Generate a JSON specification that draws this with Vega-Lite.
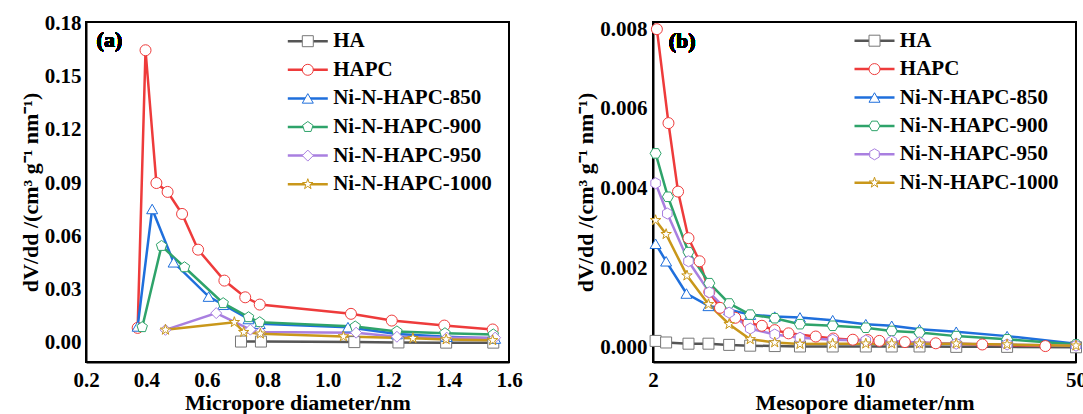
{
  "$schema": "https://vega.github.io/schema/vega-lite/v6.json",
  "padding": {"left": 18, "top": 11, "right": 0, "bottom": 0},
  "autosize": {"type": "pad"},
  "config": {
    "font": "Liberation Serif",
    "view": {"stroke": "black", "strokeWidth": 2},
    "axis": {
      "labelFont": "Liberation Serif", "labelFontWeight": "bold", "labelFontSize": 21, "labelColor": "black",
      "titleFont": "Liberation Serif", "titleFontWeight": "bold", "titleFontSize": 22, "titleColor": "black",
      "domainColor": "black", "domainWidth": 2, "tickColor": "black", "tickWidth": 1.5,
      "grid": false, "labelFlush": false, "labelOverlap": false
    },
    "legend": {"labelFont": "Liberation Serif", "labelFontWeight": "bold", "labelColor": "black"},
    "text": {"font": "Liberation Serif"}
  },
  "datasets": {
    "micro": [
      {"series": "HA", "d": 0.713, "v": 0.0008},
      {"series": "HA", "d": 0.779, "v": 0.0008},
      {"series": "HA", "d": 1.088, "v": 0.0005},
      {"series": "HA", "d": 1.234, "v": 0.0003},
      {"series": "HA", "d": 1.392, "v": 0.0002},
      {"series": "HA", "d": 1.548, "v": 0.0002},
      {"series": "HAPC", "d": 0.371, "v": 0.0085},
      {"series": "HAPC", "d": 0.397, "v": 0.1647},
      {"series": "HAPC", "d": 0.433, "v": 0.09},
      {"series": "HAPC", "d": 0.47, "v": 0.085},
      {"series": "HAPC", "d": 0.518, "v": 0.0726},
      {"series": "HAPC", "d": 0.571, "v": 0.0525},
      {"series": "HAPC", "d": 0.658, "v": 0.0351},
      {"series": "HAPC", "d": 0.727, "v": 0.0257},
      {"series": "HAPC", "d": 0.775, "v": 0.0216},
      {"series": "HAPC", "d": 1.077, "v": 0.0164},
      {"series": "HAPC", "d": 1.212, "v": 0.0126},
      {"series": "HAPC", "d": 1.386, "v": 0.0098},
      {"series": "HAPC", "d": 1.546, "v": 0.0076},
      {"series": "Ni-N-HAPC-850", "d": 0.371, "v": 0.0093},
      {"series": "Ni-N-HAPC-850", "d": 0.419, "v": 0.0754},
      {"series": "Ni-N-HAPC-850", "d": 0.49, "v": 0.0454},
      {"series": "Ni-N-HAPC-850", "d": 0.606, "v": 0.0261},
      {"series": "Ni-N-HAPC-850", "d": 0.654, "v": 0.0215},
      {"series": "Ni-N-HAPC-850", "d": 0.738, "v": 0.0135},
      {"series": "Ni-N-HAPC-850", "d": 0.775, "v": 0.0108},
      {"series": "Ni-N-HAPC-850", "d": 1.067, "v": 0.0089},
      {"series": "Ni-N-HAPC-850", "d": 1.229, "v": 0.005},
      {"series": "Ni-N-HAPC-850", "d": 1.394, "v": 0.0035},
      {"series": "Ni-N-HAPC-850", "d": 1.554, "v": 0.0025},
      {"series": "Ni-N-HAPC-900", "d": 0.386, "v": 0.0089},
      {"series": "Ni-N-HAPC-900", "d": 0.45, "v": 0.0546},
      {"series": "Ni-N-HAPC-900", "d": 0.526, "v": 0.0426},
      {"series": "Ni-N-HAPC-900", "d": 0.654, "v": 0.0224},
      {"series": "Ni-N-HAPC-900", "d": 0.738, "v": 0.0145},
      {"series": "Ni-N-HAPC-900", "d": 0.775, "v": 0.0117},
      {"series": "Ni-N-HAPC-900", "d": 1.091, "v": 0.0093},
      {"series": "Ni-N-HAPC-900", "d": 1.229, "v": 0.0065},
      {"series": "Ni-N-HAPC-900", "d": 1.388, "v": 0.0055},
      {"series": "Ni-N-HAPC-900", "d": 1.548, "v": 0.0048},
      {"series": "Ni-N-HAPC-950", "d": 0.463, "v": 0.0074},
      {"series": "Ni-N-HAPC-950", "d": 0.631, "v": 0.0168},
      {"series": "Ni-N-HAPC-950", "d": 0.744, "v": 0.0075},
      {"series": "Ni-N-HAPC-950", "d": 0.777, "v": 0.0062},
      {"series": "Ni-N-HAPC-950", "d": 1.094, "v": 0.0058},
      {"series": "Ni-N-HAPC-950", "d": 1.229, "v": 0.0035},
      {"series": "Ni-N-HAPC-950", "d": 1.394, "v": 0.003},
      {"series": "Ni-N-HAPC-950", "d": 1.554, "v": 0.003},
      {"series": "Ni-N-HAPC-1000", "d": 0.463, "v": 0.0074},
      {"series": "Ni-N-HAPC-1000", "d": 0.691, "v": 0.0117},
      {"series": "Ni-N-HAPC-1000", "d": 0.722, "v": 0.0061},
      {"series": "Ni-N-HAPC-1000", "d": 0.777, "v": 0.0052},
      {"series": "Ni-N-HAPC-1000", "d": 1.052, "v": 0.0037},
      {"series": "Ni-N-HAPC-1000", "d": 1.282, "v": 0.0027},
      {"series": "Ni-N-HAPC-1000", "d": 1.392, "v": 0.002},
      {"series": "Ni-N-HAPC-1000", "d": 1.546, "v": 0.0015}
    ],
    "meso": [
      {"series": "HA", "d": 2.04, "v": 0.00017},
      {"series": "HA", "d": 2.21, "v": 0.00013},
      {"series": "HA", "d": 2.62, "v": 0.0001},
      {"series": "HA", "d": 3.05, "v": 0.0001},
      {"series": "HA", "d": 3.57, "v": 0.00007},
      {"series": "HA", "d": 4.19, "v": 0.00005},
      {"series": "HA", "d": 5.05, "v": 0.00004},
      {"series": "HA", "d": 6.12, "v": 0.00003},
      {"series": "HA", "d": 7.85, "v": 0.00003},
      {"series": "HA", "d": 10.1, "v": 0.00003},
      {"series": "HA", "d": 12.3, "v": 0.00003},
      {"series": "HA", "d": 15.2, "v": 0.00003},
      {"series": "HA", "d": 20.1, "v": 0.00002},
      {"series": "HA", "d": 29.6, "v": 0.00002},
      {"series": "HA", "d": 50, "v": 0.00001},
      {"series": "HAPC", "d": 2.06, "v": 0.008},
      {"series": "HAPC", "d": 2.25, "v": 0.00564},
      {"series": "HAPC", "d": 2.42, "v": 0.00392},
      {"series": "HAPC", "d": 2.62, "v": 0.00275},
      {"series": "HAPC", "d": 2.85, "v": 0.00217},
      {"series": "HAPC", "d": 3.07, "v": 0.0014},
      {"series": "HAPC", "d": 3.33, "v": 0.001},
      {"series": "HAPC", "d": 3.74, "v": 0.00075},
      {"series": "HAPC", "d": 4.13, "v": 0.00062},
      {"series": "HAPC", "d": 4.58, "v": 0.00055},
      {"series": "HAPC", "d": 5.05, "v": 0.00044},
      {"series": "HAPC", "d": 5.61, "v": 0.00036},
      {"series": "HAPC", "d": 6.9, "v": 0.00028},
      {"series": "HAPC", "d": 7.89, "v": 0.00023},
      {"series": "HAPC", "d": 9.15, "v": 0.0002},
      {"series": "HAPC", "d": 10.25, "v": 0.00019},
      {"series": "HAPC", "d": 11.2, "v": 0.00017},
      {"series": "HAPC", "d": 13.6, "v": 0.00014},
      {"series": "HAPC", "d": 17.2, "v": 0.00011},
      {"series": "HAPC", "d": 24.5, "v": 0.00008},
      {"series": "HAPC", "d": 39.6, "v": 0.00004},
      {"series": "Ni-N-HAPC-850", "d": 2.04, "v": 0.00261},
      {"series": "Ni-N-HAPC-850", "d": 2.21, "v": 0.00217},
      {"series": "Ni-N-HAPC-850", "d": 2.58, "v": 0.00136},
      {"series": "Ni-N-HAPC-850", "d": 3.05, "v": 0.00105},
      {"series": "Ni-N-HAPC-850", "d": 3.57, "v": 0.00095},
      {"series": "Ni-N-HAPC-850", "d": 4.19, "v": 0.00083},
      {"series": "Ni-N-HAPC-850", "d": 5.05, "v": 0.00078},
      {"series": "Ni-N-HAPC-850", "d": 6.12, "v": 0.00076},
      {"series": "Ni-N-HAPC-850", "d": 7.85, "v": 0.00069},
      {"series": "Ni-N-HAPC-850", "d": 10.1, "v": 0.00059},
      {"series": "Ni-N-HAPC-850", "d": 12.3, "v": 0.00055},
      {"series": "Ni-N-HAPC-850", "d": 15.2, "v": 0.00046},
      {"series": "Ni-N-HAPC-850", "d": 20.1, "v": 0.0004},
      {"series": "Ni-N-HAPC-850", "d": 29.6, "v": 0.00029},
      {"series": "Ni-N-HAPC-850", "d": 50, "v": 0.0001},
      {"series": "Ni-N-HAPC-900", "d": 2.04, "v": 0.00488},
      {"series": "Ni-N-HAPC-900", "d": 2.24, "v": 0.00379},
      {"series": "Ni-N-HAPC-900", "d": 2.62, "v": 0.0024},
      {"series": "Ni-N-HAPC-900", "d": 3.07, "v": 0.00162},
      {"series": "Ni-N-HAPC-900", "d": 3.57, "v": 0.00111},
      {"series": "Ni-N-HAPC-900", "d": 4.19, "v": 0.00083},
      {"series": "Ni-N-HAPC-900", "d": 5.05, "v": 0.00074},
      {"series": "Ni-N-HAPC-900", "d": 6.12, "v": 0.00059},
      {"series": "Ni-N-HAPC-900", "d": 7.85, "v": 0.00055},
      {"series": "Ni-N-HAPC-900", "d": 10.1, "v": 0.0005},
      {"series": "Ni-N-HAPC-900", "d": 12.3, "v": 0.00042},
      {"series": "Ni-N-HAPC-900", "d": 15.2, "v": 0.00038},
      {"series": "Ni-N-HAPC-900", "d": 20.1, "v": 0.00029},
      {"series": "Ni-N-HAPC-900", "d": 29.6, "v": 0.00021},
      {"series": "Ni-N-HAPC-900", "d": 50, "v": 0.00008},
      {"series": "Ni-N-HAPC-950", "d": 2.04, "v": 0.00413},
      {"series": "Ni-N-HAPC-950", "d": 2.23, "v": 0.00337},
      {"series": "Ni-N-HAPC-950", "d": 2.62, "v": 0.00217},
      {"series": "Ni-N-HAPC-950", "d": 3.07, "v": 0.00139},
      {"series": "Ni-N-HAPC-950", "d": 3.57, "v": 0.00088},
      {"series": "Ni-N-HAPC-950", "d": 4.19, "v": 0.00048},
      {"series": "Ni-N-HAPC-950", "d": 5.05, "v": 0.00033},
      {"series": "Ni-N-HAPC-950", "d": 6.12, "v": 0.00025},
      {"series": "Ni-N-HAPC-950", "d": 7.85, "v": 0.0002},
      {"series": "Ni-N-HAPC-950", "d": 10.1, "v": 0.00018},
      {"series": "Ni-N-HAPC-950", "d": 12.3, "v": 0.00016},
      {"series": "Ni-N-HAPC-950", "d": 15.2, "v": 0.00013},
      {"series": "Ni-N-HAPC-950", "d": 20.1, "v": 0.0001},
      {"series": "Ni-N-HAPC-950", "d": 29.6, "v": 0.00008},
      {"series": "Ni-N-HAPC-950", "d": 50, "v": 0.00005},
      {"series": "Ni-N-HAPC-1000", "d": 2.04, "v": 0.0032},
      {"series": "Ni-N-HAPC-1000", "d": 2.21, "v": 0.00285},
      {"series": "Ni-N-HAPC-1000", "d": 2.59, "v": 0.00181},
      {"series": "Ni-N-HAPC-1000", "d": 3.05, "v": 0.00109},
      {"series": "Ni-N-HAPC-1000", "d": 3.57, "v": 0.00059},
      {"series": "Ni-N-HAPC-1000", "d": 4.19, "v": 0.00021},
      {"series": "Ni-N-HAPC-1000", "d": 5.05, "v": 0.00013},
      {"series": "Ni-N-HAPC-1000", "d": 6.12, "v": 0.00009},
      {"series": "Ni-N-HAPC-1000", "d": 7.85, "v": 0.0001},
      {"series": "Ni-N-HAPC-1000", "d": 10.1, "v": 0.0001},
      {"series": "Ni-N-HAPC-1000", "d": 12.3, "v": 0.0001},
      {"series": "Ni-N-HAPC-1000", "d": 15.2, "v": 0.0001},
      {"series": "Ni-N-HAPC-1000", "d": 20.1, "v": 0.0001},
      {"series": "Ni-N-HAPC-1000", "d": 29.6, "v": 0.00008},
      {"series": "Ni-N-HAPC-1000", "d": 50, "v": 0.00005}
    ]
  },
  "bounds": "flush",
  "spacing": 144,
  "resolve": {
    "scale": {"color": "independent", "shape": "independent", "stroke": "independent"},
    "legend": {"color": "independent", "shape": "independent", "stroke": "independent"}
  },
  "hconcat": [
    {
      "width": 423,
      "height": 340,
      "data": {"name": "micro"},
      "encoding": {
        "x": {
          "field": "d", "type": "quantitative",
          "scale": {"domain": [0.2, 1.6], "nice": false, "zero": false},
          "axis": {
            "title": "Micropore diameter/nm",
            "values": [0.2, 0.3, 0.4, 0.5, 0.6, 0.7, 0.8, 0.9, 1.0, 1.1, 1.2, 1.3, 1.4, 1.5, 1.6],
            "labelExpr": "round(datum.value*10) % 2 === 0 ? format(datum.value, '.1f') : ''",
            "tickSize": 0, "labelPadding": 7, "titlePadding": 2,
            "encode": {"ticks": {"update": {"y2": {"signal": "round(datum.value*10) % 2 === 0 ? -6 : -3"}}}}
          }
        },
        "y": {
          "field": "v", "type": "quantitative",
          "scale": {"domain": [-0.0107, 0.1806], "nice": false, "zero": false},
          "axis": {
            "title": "dV/dd /(cm³ g⁻¹ nm⁻¹)",
            "values": [0, 0.015, 0.03, 0.045, 0.06, 0.075, 0.09, 0.105, 0.12, 0.135, 0.15, 0.165, 0.18],
            "labelExpr": "round(datum.value*1000) % 30 === 0 ? format(datum.value, '.2f') : ''",
            "tickSize": 0, "labelPadding": 5, "titlePadding": 2,
            "encode": {"ticks": {"update": {"x2": {"signal": "round(datum.value*1000) % 30 === 0 ? 6 : 3"}}}}
          }
        }
      },
      "layer": [
        {
          "mark": {"type": "line", "strokeWidth": 2.5},
          "encoding": {
            "stroke": {
              "field": "series", "type": "nominal",
              "sort": ["HA", "HAPC", "Ni-N-HAPC-850", "Ni-N-HAPC-900", "Ni-N-HAPC-950", "Ni-N-HAPC-1000"],
              "scale": {"range": ["#555555", "#ee3b3b", "#1f6fdc", "#2ea36a", "#a97fe0", "#c9971a"]},
              "legend": {"orient": "none", "legendX": 211.3, "legendY": 8.7, "title": null, "symbolType": "M-4,0H4", "symbolSize": 100, "symbolStrokeWidth": 2.5, "labelFont": "Liberation Serif", "labelFontWeight": "bold", "labelFontSize": 21, "labelColor": "black", "labelOffset": 14.9, "rowPadding": 6.6, "padding": 0, "symbolOffset": 0, "labelLimit": 400}
            }
          }
        },
        {
          "mark": {"type": "point", "filled": false, "fill": "white", "size": 121, "strokeWidth": 1, "opacity": 1},
          "encoding": {
            "color": {
              "field": "series", "type": "nominal",
              "scale": {"domain": ["HA", "HAPC", "Ni-N-HAPC-850", "Ni-N-HAPC-900", "Ni-N-HAPC-950", "Ni-N-HAPC-1000"], "range": ["#777777", "#ee3b3b", "#1f6fdc", "#2ea36a", "#a97fe0", "#c9971a"]},
              "legend": {"orient": "none", "legendX": 211.3, "legendY": 8.7, "title": null, "symbolSize": 121, "symbolStrokeWidth": 1, "symbolFillColor": "white", "labelFont": "Liberation Serif", "labelFontWeight": "bold", "labelFontSize": 21, "labelExpr": "''", "labelOffset": 14.9, "rowPadding": 6.6, "padding": 0, "symbolOffset": 0, "labelLimit": 400}
            },
            "shape": {
              "field": "series", "type": "nominal",
              "scale": {"domain": ["HA", "HAPC", "Ni-N-HAPC-850", "Ni-N-HAPC-900", "Ni-N-HAPC-950", "Ni-N-HAPC-1000"], "range": ["square", "circle", "triangle-up", "M0,-1L0.951,-0.309L0.588,0.809L-0.588,0.809L-0.951,-0.309Z", "diamond", "M0,-1L0.2245,-0.309L0.951,-0.309L0.363,0.118L0.588,0.809L0,0.382L-0.588,0.809L-0.363,0.118L-0.951,-0.309L-0.2245,-0.309Z"]},
              "legend": {"orient": "none", "legendX": 211.3, "legendY": 8.7, "title": null, "symbolSize": 121, "symbolStrokeWidth": 1, "symbolFillColor": "white", "labelFont": "Liberation Serif", "labelFontWeight": "bold", "labelFontSize": 21, "labelExpr": "''", "labelOffset": 14.9, "rowPadding": 6.6, "padding": 0, "symbolOffset": 0, "labelLimit": 400}
            }
          }
        },
        {
          "mark": {"type": "text", "text": "(a)", "align": "left", "baseline": "middle", "font": "Liberation Serif", "fontWeight": "bold", "fontSize": 22, "color": "black"},
          "encoding": {"x": {"datum": 0.235}, "y": {"datum": 0.1705}}
        }
      ]
    },
    {
      "width": 423,
      "height": 340,
      "data": {"name": "meso"},
      "encoding": {
        "x": {
          "field": "d", "type": "quantitative",
          "scale": {"type": "log", "domain": [2, 50], "nice": false, "zero": false},
          "axis": {
            "title": "Mesopore diameter/nm",
            "values": [2, 3, 4, 5, 6, 7, 8, 9, 10, 20, 30, 40, 50],
            "labelExpr": "(datum.value === 2 || datum.value === 10 || datum.value === 50) ? '' + datum.value : ''",
            "tickSize": 0, "labelPadding": 7, "titlePadding": 2,
            "encode": {"ticks": {"update": {"y2": {"signal": "(datum.value === 2 || datum.value === 10 || datum.value === 50) ? -6 : -3"}}}}
          }
        },
        "y": {
          "field": "v", "type": "quantitative",
          "scale": {"domain": [-0.00036, 0.00818], "nice": false, "zero": false},
          "axis": {
            "title": "dV/dd /(cm³ g⁻¹ nm⁻¹)",
            "values": [0, 0.001, 0.002, 0.003, 0.004, 0.005, 0.006, 0.007, 0.008],
            "labelExpr": "round(datum.value*1000) % 2 === 0 ? format(datum.value, '.3f') : ''",
            "tickSize": 0, "labelPadding": 6, "titlePadding": 2,
            "encode": {"ticks": {"update": {"x2": {"signal": "round(datum.value*1000) % 2 === 0 ? 6 : 3"}}}}
          }
        }
      },
      "layer": [
        {
          "mark": {"type": "line", "strokeWidth": 2.5},
          "encoding": {
            "stroke": {
              "field": "series", "type": "nominal",
              "sort": ["HA", "HAPC", "Ni-N-HAPC-850", "Ni-N-HAPC-900", "Ni-N-HAPC-950", "Ni-N-HAPC-1000"],
              "scale": {"range": ["#555555", "#ee3b3b", "#1f6fdc", "#2ea36a", "#a97fe0", "#c9971a"]},
              "legend": {"orient": "none", "legendX": 211, "legendY": 8.2, "title": null, "symbolType": "M-4,0H4", "symbolSize": 100, "symbolStrokeWidth": 2.5, "labelFont": "Liberation Serif", "labelFontWeight": "bold", "labelFontSize": 21, "labelColor": "black", "labelOffset": 14.8, "rowPadding": 6.4, "padding": 0, "symbolOffset": 0, "labelLimit": 400}
            }
          }
        },
        {
          "mark": {"type": "point", "filled": false, "fill": "white", "size": 121, "strokeWidth": 1, "opacity": 1},
          "encoding": {
            "color": {
              "field": "series", "type": "nominal",
              "scale": {"domain": ["HA", "HAPC", "Ni-N-HAPC-850", "Ni-N-HAPC-900", "Ni-N-HAPC-950", "Ni-N-HAPC-1000"], "range": ["#777777", "#ee3b3b", "#1f6fdc", "#2ea36a", "#a97fe0", "#c9971a"]},
              "legend": {"orient": "none", "legendX": 211, "legendY": 8.2, "title": null, "symbolSize": 121, "symbolStrokeWidth": 1, "symbolFillColor": "white", "labelFont": "Liberation Serif", "labelFontWeight": "bold", "labelFontSize": 21, "labelExpr": "''", "labelOffset": 14.8, "rowPadding": 6.4, "padding": 0, "symbolOffset": 0, "labelLimit": 400}
            },
            "shape": {
              "field": "series", "type": "nominal",
              "scale": {"domain": ["HA", "HAPC", "Ni-N-HAPC-850", "Ni-N-HAPC-900", "Ni-N-HAPC-950", "Ni-N-HAPC-1000"], "range": ["square", "circle", "triangle-up", "M-1,0L-0.5,-0.866L0.5,-0.866L1,0L0.5,0.866L-0.5,0.866Z", "M0,-1L0.866,-0.5L0.866,0.5L0,1L-0.866,0.5L-0.866,-0.5Z", "M0,-1L0.2245,-0.309L0.951,-0.309L0.363,0.118L0.588,0.809L0,0.382L-0.588,0.809L-0.363,0.118L-0.951,-0.309L-0.2245,-0.309Z"]},
              "legend": {"orient": "none", "legendX": 211, "legendY": 8.2, "title": null, "symbolSize": 121, "symbolStrokeWidth": 1, "symbolFillColor": "white", "labelFont": "Liberation Serif", "labelFontWeight": "bold", "labelFontSize": 21, "labelExpr": "''", "labelOffset": 14.8, "rowPadding": 6.4, "padding": 0, "symbolOffset": 0, "labelLimit": 400}
            }
          }
        },
        {
          "mark": {"type": "text", "text": "(b)", "align": "left", "baseline": "middle", "font": "Liberation Serif", "fontWeight": "bold", "fontSize": 22, "color": "black"},
          "encoding": {"x": {"datum": 2.255}, "y": {"datum": 0.0077}}
        }
      ]
    }
  ]
}
